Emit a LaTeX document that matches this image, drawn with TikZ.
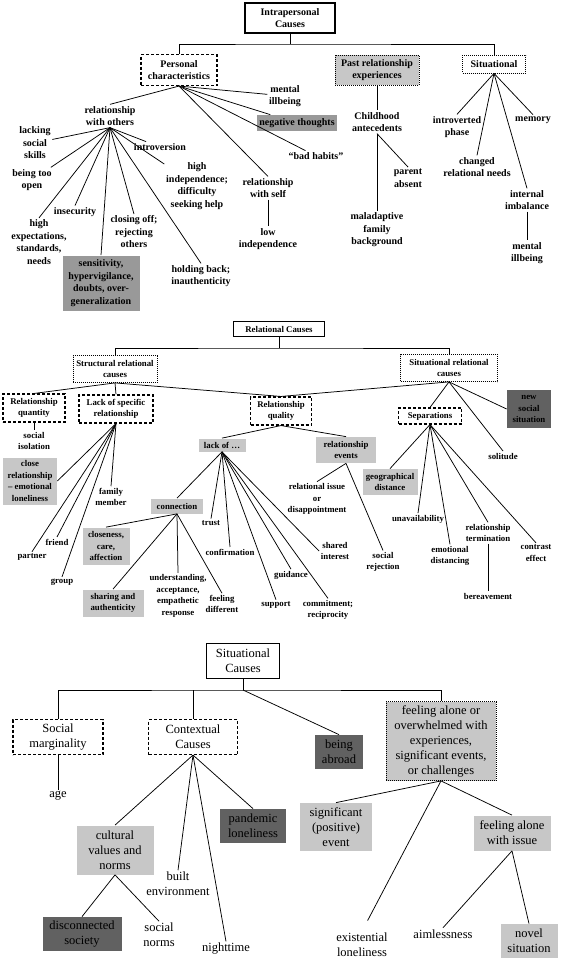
\documentclass[tikz,border=0pt]{standalone}
\usepackage{fontspec}
\setmainfont{Liberation Serif}

\definecolor{lightbox}{gray}{0.78}
\definecolor{midbox}{gray}{0.6}
\definecolor{darkbox}{gray}{0.38}

\tikzset{
	lab/.style={align=center, inner sep=1.5pt},
	fA/.style={font=\fontsize{10}{12.5}\selectfont\bfseries},
	fB/.style={font=\fontsize{8.8}{11.5}\selectfont\bfseries},
	fC/.style={font=\fontsize{12.5}{15}\selectfont},
	solidbox/.style={draw, line width=1.3pt, align=center, inner sep=2pt},
	dashbox/.style={draw, line width=1.1pt, dash pattern=on 3pt off 2pt, align=center, inner sep=2pt},
	dotbox/.style={draw, line width=0.8pt, dash pattern=on 1pt off 1pt, align=center, inner sep=2pt},
	lite/.style={fill=lightbox, align=center, inner sep=2pt},
	midg/.style={fill=midbox, align=center, inner sep=2pt},
	darkg/.style={fill=darkbox, align=center, inner sep=2pt},
	sz/.style 2 args={minimum width=#1pt, minimum height=#2pt},
}

\begin{document}
\begin{tikzpicture}[x=1pt, y=-1pt, line width=0.75pt]
	\useasboundingbox (0,0) rectangle (560,961);
	
	% intrapersonal causes
	\node[solidbox, fA, sz={90}{30}](INTRA) at (290,18){Intrapersonal\\Causes};
	\node[dashbox, fA, sz={76}{31}](PERS) at (179,70){Personal\\characteristics};
	\node[dotbox, lite, fA, sz={84}{30}](PAST) at (377,70){Past relationship\\experiences};
	\node[dotbox, fA, sz={63}{18}](SITU) at (494,64){Situational};
	\coordinate (J1) at (290,44);
	
	\draw (INTRA.south) -- (J1);
	\draw (PERS.north) |- (J1) -| (SITU.north);
	
	\node[lab, fA](RWO) at (110,116){relationship\\with others};
	\node[lab, fA](MENT1) at (285,96){mental\\illbeing};
	\node[midg, fA, sz={80}{16}](NEG) at (297,123){negative thoughts};
	\node[lab, fA](HAB) at (316,156){“bad habits”};
	\node[lab, fA](RWS) at (268,188){relationship\\with self};
	\node[lab, fA](LOWI) at (268,239){low\\independence};
	
	\draw (PERS.south) -- (RWO.north);
	\draw (PERS.south) -- (MENT1);
	\draw (PERS.south) -- (NEG);
	\draw (PERS.south) -- (HAB);
	\draw (PERS.south) -- (RWS.north);
	\draw (RWS) -- (LOWI);
	
	\node[lab, fA](LSS) at (35,143){lacking\\social\\skills};
	\node[lab, fA](INTRO) at (160,147){introversion};
	\node[lab, fA](BTO) at (32,180){being too\\open};
	\node[lab, fA](HEX) at (39,242){high\\expectations,\\standards,\\needs};
	\node[lab, fA](INSEC) at (75,212){insecurity};
	\node[midg, fA, sz={77}{55}](SENS) at (101,283){sensitivity,\\hypervigilance,\\doubts, over-\\generalization};
	\node[lab, fA](CLOSE) at (134,232){closing off;\\rejecting\\others};
	\node[lab, fA](HOLD) at (201,276){holding back;\\inauthenticity};
	\node[lab, fA](HIND) at (197,186){high\\independence;\\difficulty\\seeking help};
	
	\draw (RWO.south) -- (LSS);
	\draw (RWO.south) -- (INTRO);
	\draw (RWO.south) -- (BTO);
	\draw (RWO.south) -- (HEX.north);
	\draw (RWO.south) -- (INSEC.north);
	\draw (RWO.south) -- (SENS.north);
	\draw (RWO.south) -- (CLOSE.north);
	\draw (RWO.south) -- (HOLD.north);
	\draw (RWO.south) -- (HIND);
	
	\node[lab, fA](CHILD) at (377,122){Childhood\\antecedents};
	\node[lab, fA](MAL) at (377,230){maladaptive\\family\\background};
	\node[lab, fA](PARENT) at (408,178){parent\\absent};
	
	\draw (PAST) -- (CHILD);
	\draw (CHILD) -- (MAL);
	\draw (CHILD.south) -- (PARENT.north);
	
	\node[lab, fA](INTP) at (457,127){introverted\\phase};
	\node[lab, fA](CHANGE) at (477,167){changed\\relational needs};
	\node[lab, fA](MEM) at (533,120){memory};
	\node[lab, fA](INTIM) at (527,200){internal\\imbalance};
	\node[lab, fA](MENT2) at (527,253){mental\\illbeing};
	
	\draw (SITU.south) -- (INTP.north);
	\draw (SITU.south) -- (CHANGE.north);
	\draw (SITU.south) -- (MEM.north);
	\draw (SITU.south) -- (INTIM.north);
	\draw (INTIM) -- (MENT2);
	
	% relational causes
	\node[solidbox, fB, sz={91}{15}](RELC) at (279,329){Relational Causes};
	\coordinate (J2) at (279,348);
	\node[dotbox, fB, sz={84}{27}](STRUC) at (115,369){Structural relational\\causes};
	\node[dotbox, fB, sz={97}{27}](SITRC) at (449,368){Situational relational\\causes};
	
	\draw (RELC.south) -- (J2);
	\draw (STRUC.north) |- (J2) -| (SITRC.north);
	
	\node[dashbox, fB, sz={62}{28}](RQN) at (34,408){Relationship\\quantity};
	\node[dashbox, fB, sz={74}{28}](LSR) at (116,409){Lack of specific\\relationship};
	\node[dashbox, fB, sz={61}{28}](RQL) at (281,411){Relationship\\quality};
	
	\draw (STRUC.south) -- (RQN.north);
	\draw (STRUC.south) -- (LSR.north);
	\draw (STRUC.south) -- (RQL.north);
	\draw (SITRC.south) -- (RQL.north);
	
	\node[lab, fB](SISO) at (34,441){social\\isolation};
	\draw (RQN) -- (SISO);
	
	\node[lite, fB, sz={54}{47}](CLR) at (30,481){close\\relationship\\– emotional\\loneliness};
	\node[lab, fB](PART) at (32,557){partner};
	\node[lab, fB](FRND) at (57,542){friend};
	\node[lab, fB](GRP) at (62,582){group};
	\node[lab, fB](FAM) at (111,497){family\\member};
	
	\draw (LSR.south) -- (CLR.east);
	\draw (LSR.south) -- (PART.north);
	\draw (LSR.south) -- (FRND.north);
	\draw (LSR.south) -- (GRP.north);
	\draw (LSR.south) -- (FAM.north);
	
	\node[lite, fB, sz={47}{13}](LACK) at (222,445){lack of …};
	\node[lite, fB, sz={60}{26}](REV) at (346,450){relationship\\events};
	
	\draw (RQL.south) -- (LACK.north);
	\draw (RQL.south) -- (REV.north);
	
	\node[lite, fB, sz={52}{15}](CONN) at (177,506){connection};
	\node[lab, fB](TRUST) at (211,523){trust};
	\node[lab, fB](CONF) at (230,552){confirmation};
	\node[lab, fB](SUPP) at (276,605){support};
	\node[lab, fB](GUID) at (291,575){guidance};
	\node[lab, fB](COMM) at (328,610){commitment;\\reciprocity};
	\node[lab, fB](SHI) at (335,551){shared\\interest};
	
	\draw (LACK.south) -- (CONN.north);
	\draw (LACK.south) -- (TRUST.north);
	\draw (LACK.south) -- (CONF.north);
	\draw (LACK.south) -- (SUPP.north);
	\draw (LACK.south) -- (GUID.north);
	\draw (LACK.south) -- (COMM.north);
	\draw (LACK.south) -- (SHI.west);
	
	\node[lite, fB, sz={47}{37}](CCA) at (106,546){closeness,\\care,\\affection};
	\node[lite, fB, sz={61}{27}](SHA) at (113,603){sharing and\\authenticity};
	\node[lab, fB](UND) at (178,596){understanding,\\acceptance,\\empathetic\\response};
	\node[lab, fB](FDIFF) at (222,604){feeling\\different};
	
	\draw (CONN.south) -- (CCA.north);
	\draw (CONN.south) -- (SHA.north);
	\draw (CONN.south) -- (UND.north);
	\draw (CONN.south) -- (FDIFF.north);
	
	\node[lab, fB](RIS) at (317,499){relational issue\\or\\disappointment};
	\node[lab, fB](SREJ) at (383,562){social\\rejection};
	
	\draw (REV.south) -- (RIS.north);
	\draw (REV.south) -- (SREJ.north);
	
	\node[dashbox, fB, sz={63}{16}](SEP) at (430,416){Separations};
	\node[darkg, fB, sz={44}{38}](NSS) at (529,409){new\\social\\situation};
	\node[lab, fB](SOLI) at (503,456){solitude};
	
	\draw (SITRC.south) -- (SEP.north);
	\draw (SITRC.south) -- (NSS.west);
	\draw (SITRC.south) -- (SOLI.north);
	
	\node[lite, fB, sz={55}{26}](GEO) at (390,482){geographical\\distance};
	\node[lab, fB](UNAV) at (418,519){unavailability};
	\node[lab, fB](EMD) at (450,556){emotional\\distancing};
	\node[lab, fB](RTERM) at (488,533){relationship\\termination};
	\node[lab, fB](CONTR) at (536,553){contrast\\effect};
	\node[lab, fB](BER) at (488,596){bereavement};
	
	\draw (SEP.south) -- (GEO.north);
	\draw (SEP.south) -- (UNAV.north);
	\draw (SEP.south) -- (EMD.north);
	\draw (SEP.south) -- (RTERM.north);
	\draw (SEP.south) -- (CONTR.north);
	\draw (RTERM) -- (BER);
	
	% situational causes
	\node[solidbox, fC, sz={73}{35}](SITC) at (243,661){Situational\\Causes};
	\coordinate (J3) at (243,690);
	\node[dashbox, fC, sz={90}{35}](SOCM) at (58,737){Social\\marginality};
	\node[dashbox, fC, sz={89}{35}](CTX) at (193,737){Contextual\\Causes};
	\node[darkg, fC, sz={48}{34}](ABR) at (339,752){being\\abroad};
	\node[dotbox, lite, fC, sz={110}{79}](FEEL) at (441,741){feeling alone or\\overwhelmed with\\experiences,\\significant events,\\or challenges};
	
	\draw (SITC.south) -- (J3);
	\draw (SOCM.north) |- (J3) -| (FEEL.north);
	\draw (CTX.north) -- (CTX.north |- J3);
	\draw (J3) -- (ABR.north);
	
	\node[lab, fC](AGE) at (58,796){age};
	\draw (SOCM) -- (AGE);
	
	\node[lite, fC, sz={77}{49}](CVN) at (115,850){cultural\\values and\\norms};
	\node[lab, fC](BUILT) at (178,884){built\\environment};
	\node[lab, fC](NIGHT) at (226,949){nighttime};
	\node[darkg, fC, sz={66}{34}](PAND) at (253,826){pandemic\\loneliness};
	
	\draw (CTX.south) -- (CVN.north);
	\draw (CTX.south) -- (BUILT.north);
	\draw (CTX.south) -- (NIGHT.north);
	\draw (CTX.south) -- (PAND.north);
	
	\node[darkg, fC, sz={79}{34}](DISC) at (82,934){disconnected\\society};
	\node[lab, fC](SNORM) at (159,935){social\\norms};
	
	\draw (CVN.south) -- (DISC.north);
	\draw (CVN.south) -- (SNORM.north);
	
	\node[lite, fC, sz={72}{48}](SIG) at (336,827){significant\\(positive)\\event};
	\node[lite, fC, sz={77}{35}](FAI) at (512,833){feeling alone\\with issue};
	\node[lab, fC](EXIST) at (362,945){existential\\loneliness};
	
	\draw (FEEL.south) -- (SIG.north);
	\draw (FEEL.south) -- (FAI.north);
	\draw[shorten >=12pt] (FEEL.south) -- (EXIST.north);
	
	\node[lab, fC](AIM) at (443,934){aimlessness};
	\node[lite, fC, sz={57}{34}](NOVEL) at (529,941){novel\\situation};
	
	\draw (FAI.south) -- (AIM.north);
	\draw (FAI.south) -- (NOVEL.north);
	
\end{tikzpicture}
\end{document}
